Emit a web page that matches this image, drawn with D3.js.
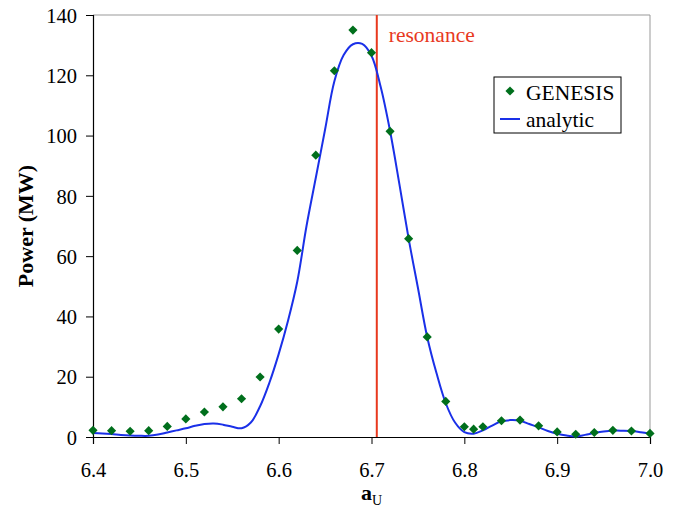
<!DOCTYPE html>
<html>
<head>
<meta charset="utf-8">
<script src="https://cdn.jsdelivr.net/npm/d3@7"></script>
<style>
  body { margin: 0; background: #fff; }
  text { font-family: "Liberation Serif", "Times New Roman", serif; }
</style>
</head>
<body>
<div id="chart"></div>
<script>
// GENESIS simulation points (undulator parameter vs power)
const genesisA = [6.40, 6.42, 6.44, 6.46, 6.48, 6.50, 6.52, 6.54, 6.56, 6.58,
  6.60, 6.62, 6.64, 6.66, 6.68, 6.70, 6.72, 6.74, 6.76, 6.78,
  6.80, 6.81, 6.82, 6.84, 6.86, 6.88, 6.90, 6.92, 6.94, 6.96, 6.98, 7.00];
const genesisP = [2.2, 2.1, 1.9, 2.1, 3.5, 6.0, 8.3, 10.0, 12.7, 19.9,
  35.8, 61.9, 93.5, 121.5, 135.0, 127.5, 101.4, 65.8, 33.2, 11.8,
  3.4, 2.6, 3.4, 5.4, 5.6, 3.7, 1.7, 0.9, 1.5, 2.2, 2.0, 1.2];

// analytic curve, read every 0.01 from 6.40 to 7.00
const analyticA = d3.range(61).map(i => +(6.4 + i * 0.01).toFixed(2));
const analyticP = [1.3, 1.2, 1.0, 0.7, 0.5, 0.4, 0.4, 0.8, 1.5, 2.2,
  2.9, 3.7, 4.3, 4.5, 4.1, 3.4, 2.9, 4.8, 10.2, 18.0,
  27.5, 38.5, 51.5, 70, 86, 102, 118, 126.7, 130.3, 130.4,
  126.5, 116, 101.5, 84, 65.8, 49.5, 33.2, 21.2, 11.2, 4.8,
  1.6, 1.1, 2.2, 3.8, 5.2, 5.6, 5.4, 4.3, 3.2, 2.0,
  1.1, 0.5, 0.2, 0.7, 1.3, 1.8, 2.1, 2.1, 2.0, 1.6, 1.1];

const resonance = 6.7057;
const xTicks = [6.4, 6.5, 6.6, 6.7, 6.8, 6.9, 7.0];
const yTicks = [0, 20, 40, 60, 80, 100, 120, 140];

const width = 680, height = 513;
const margin = {left: 93, right: 30, top: 15, bottom: 76};

const svg = d3.select("#chart").append("svg")
  .attr("width", width)
  .attr("height", height);

const x = d3.scaleLinear().domain([6.4, 7.0]).range([margin.left, width - margin.right]);
const y = d3.scaleLinear().domain([0, 140]).range([height - margin.bottom, margin.top]);

// top and right frame lines
svg.append("path")
  .attr("d", `M${x(6.4)},${y(140)}H${x(7.0)}V${y(0)}`)
  .attr("fill", "none")
  .attr("stroke", "#999")
  .attr("stroke-width", 1);

// axes
const xAxis = svg.append("g")
  .attr("transform", `translate(0,${y(0)})`)
  .call(d3.axisBottom(x).tickValues(xTicks).tickFormat(d3.format(".1f")).tickSize(7).tickPadding(18));
const yAxis = svg.append("g")
  .attr("transform", `translate(${x(6.4)},0)`)
  .call(d3.axisLeft(y).tickValues(yTicks).tickSize(7).tickPadding(9));

[xAxis, yAxis].forEach(g => {
  g.select(".domain").attr("stroke", "#000").attr("stroke-width", 1.2);
  g.selectAll(".tick line").attr("stroke", "#000");
  g.selectAll(".tick text")
    .attr("fill", "#000")
    .style("font-family", '"Liberation Serif", serif')
    .style("font-size", "20.5px");
});
yAxis.selectAll(".tick text").attr("dy", "0.35em");

// axis titles
svg.append("text")
  .attr("transform", `translate(33,${(y(0) + y(140)) / 2}) rotate(-90)`)
  .attr("text-anchor", "middle")
  .attr("font-size", "22px")
  .attr("font-weight", "bold")
  .text("Power (MW)");

const xt = svg.append("text")
  .attr("x", 361)
  .attr("y", 500)
  .attr("font-size", "22px");
xt.append("tspan").attr("font-weight", "bold").text("a");
xt.append("tspan").attr("font-size", "14px").attr("dy", 5).text("U");

// resonance line
svg.append("line")
  .attr("x1", x(resonance)).attr("x2", x(resonance))
  .attr("y1", y(140)).attr("y2", y(0))
  .attr("stroke", "#e8391e")
  .attr("stroke-width", 2);

svg.append("text")
  .attr("x", x(resonance) + 12)
  .attr("y", 42)
  .attr("fill", "#e8391e")
  .attr("font-size", "21.5px")
  .text("resonance");

// analytic curve
const line = d3.line()
  .x((d, i) => x(analyticA[i]))
  .y(d => y(d))
  .curve(d3.curveCatmullRom);

svg.append("path")
  .datum(analyticP)
  .attr("d", line)
  .attr("fill", "none")
  .attr("stroke", "#1a30e8")
  .attr("stroke-width", 2);

// GENESIS diamonds
const diamond = d3.symbol().type(d3.symbolSquare).size(42);
svg.append("g")
  .selectAll("path")
  .data(genesisP)
  .enter().append("path")
  .attr("d", diamond)
  .attr("transform", (d, i) => `translate(${x(genesisA[i])},${y(d)}) rotate(45)`)
  .attr("fill", "#006f1c");

// legend
const legend = svg.append("g").attr("transform", "translate(494,77)");
legend.append("rect")
  .attr("width", 127).attr("height", 56)
  .attr("fill", "#fff")
  .attr("stroke", "#000")
  .attr("stroke-width", 1);
legend.append("path")
  .attr("d", diamond)
  .attr("transform", "translate(16,14) rotate(45)")
  .attr("fill", "#006f1c");
legend.append("text")
  .attr("x", 32).attr("y", 23)
  .attr("font-size", "21.5px")
  .text("GENESIS");
legend.append("line")
  .attr("x1", 6).attr("x2", 26)
  .attr("y1", 42).attr("y2", 42)
  .attr("stroke", "#1a30e8")
  .attr("stroke-width", 2);
legend.append("text")
  .attr("x", 32).attr("y", 50)
  .attr("font-size", "21.5px")
  .text("analytic");
</script>
</body>
</html>
